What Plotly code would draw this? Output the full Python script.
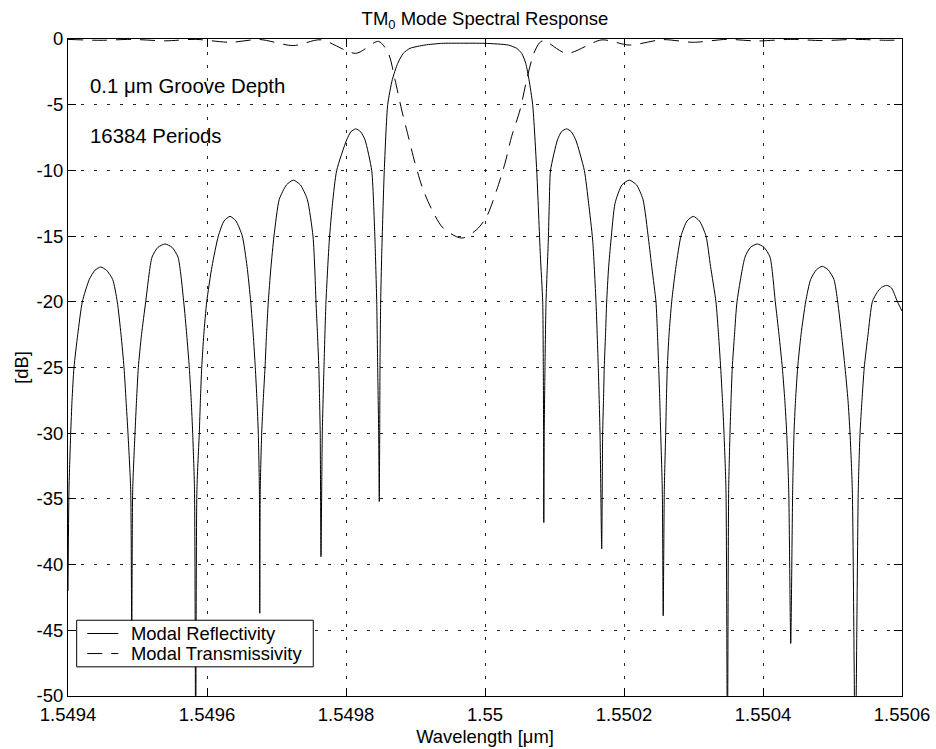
import plotly.graph_objects as go

# ---- data ----
wl_refl = [
    # left edge + lobe 1
    1.5494000, 1.5494014, 1.5494039, 1.5494058, 1.5494086, 1.5494140, 1.5494206, 1.5494306,
    1.5494388, 1.5494471, 1.5494554, 1.5494643, 1.5494709, 1.5494763, 1.5494806, 1.5494835,
    1.5494863, 1.5494902, 1.5494917,
    # lobe 2
    1.5494931, 1.5494964, 1.5494986, 1.5495012, 1.5495058, 1.5495118, 1.5495209, 1.5495295,
    1.5495396, 1.5495496, 1.5495583, 1.5495665, 1.5495708, 1.5495745, 1.5495773, 1.5495794,
    1.5495820, 1.5495837,
    # lobe 3
    1.5495855, 1.5495889, 1.5495905, 1.5495924, 1.5495954, 1.5495996, 1.5496072, 1.5496163,
    1.5496245, 1.5496331, 1.5496417, 1.5496508, 1.5496576, 1.5496629, 1.5496665, 1.5496695,
    1.5496719, 1.5496738, 1.5496754, 1.5496759,
    # lobe 4
    1.5496766, 1.5496787, 1.5496809, 1.5496835, 1.5496856, 1.5496882, 1.5496918, 1.5496964,
    1.5497040, 1.5497144, 1.5497242, 1.5497343, 1.5497443, 1.5497525, 1.5497551, 1.5497568,
    1.5497590, 1.5497609, 1.5497620, 1.5497629, 1.5497640,
    # lobe 5
    1.5497659, 1.5497683, 1.5497712, 1.5497760, 1.5497806, 1.5497866, 1.5498010, 1.5498072,
    1.5498140, 1.5498209, 1.5498273, 1.5498370, 1.5498397, 1.5498417, 1.5498442, 1.5498456,
    1.5498470, 1.5498479,
    # main lobe
    1.5498485, 1.5498489, 1.5498499, 1.5498514, 1.5498551, 1.5498600, 1.5498666, 1.5498744,
    1.5498825, 1.5498921, 1.5499137, 1.5499377, 1.5499655, 1.5500000, 1.5500335, 1.5500456,
    1.5500528, 1.5500586, 1.5500633, 1.5500686, 1.5500744, 1.5500796, 1.5500830, 1.5500839,
    1.5500843, 1.5500846,
    # lobe 6
    1.5500852, 1.5500863, 1.5500878, 1.5500911, 1.5500925, 1.5500943, 1.5501043, 1.5501101,
    1.5501175, 1.5501240, 1.5501305, 1.5501429, 1.5501491, 1.5501549, 1.5501597, 1.5501630,
    1.5501655, 1.5501679,
    # lobe 7
    1.5501693, 1.5501705, 1.5501716, 1.5501734, 1.5501751, 1.5501777, 1.5501813, 1.5501871,
    1.5501971, 1.5502076, 1.5502180, 1.5502273, 1.5502352, 1.5502403, 1.5502460, 1.5502482,
    1.5502499, 1.5502515, 1.5502528, 1.5502551, 1.5502564,
    # lobe 8
    1.5502580, 1.5502600, 1.5502610, 1.5502623, 1.5502648, 1.5502686, 1.5502748, 1.5502820,
    1.5502907, 1.5502997, 1.5503086, 1.5503180, 1.5503245, 1.5503323, 1.5503360, 1.5503391,
    1.5503417, 1.5503439, 1.5503467, 1.5503488,
    # lobe 9
    1.5503506, 1.5503525, 1.5503540, 1.5503558, 1.5503590, 1.5503626, 1.5503741, 1.5503820,
    1.5503918, 1.5504014, 1.5504101, 1.5504177, 1.5504230, 1.5504278, 1.5504314, 1.5504341,
    1.5504370, 1.5504399,
    # lobe 10
    1.5504427, 1.5504446, 1.5504468, 1.5504499, 1.5504547, 1.5504614, 1.5504685, 1.5504770,
    1.5504853, 1.5504935, 1.5505021, 1.5505075, 1.5505130, 1.5505180, 1.5505223, 1.5505252,
    1.5505285, 1.5505328,
    # lobe 11 (cut by right edge)
    1.5505371, 1.5505396, 1.5505424, 1.5505457, 1.5505511, 1.5505573, 1.5505640, 1.5505705,
    1.5505780, 1.5505849, 1.5505935, 1.5506000,
]
refl_db = [
    -42.0, -34.3, -30.0, -27.5, -25.0, -22.5, -20.0, -18.3,
    -17.6, -17.35, -17.6, -18.3, -20.0, -22.5, -25.0, -27.5,
    -30.0, -34.3, -46.0,
    -34.3, -30.0, -27.5, -25.0, -22.5, -20.0, -16.6, -15.85,
    -15.6, -15.85, -16.6, -20.0, -22.5, -25.0, -27.5, -30.0,
    -34.3, -55.0,
    -34.3, -30.0, -27.5, -25.0, -22.5, -20.0, -17.3, -15.0,
    -13.85, -13.5, -13.85, -15.0, -17.3, -20.0, -22.5, -25.0,
    -27.5, -30.0, -34.3, -43.7,
    -34.3, -30.0, -27.5, -25.0, -22.5, -20.0, -17.5, -15.0,
    -12.2, -11.1, -10.74, -11.1, -12.2, -15.0, -17.5, -20.0,
    -22.5, -25.0, -27.5, -30.0, -39.4,
    -30.0, -25.0, -20.0, -15.3, -12.5, -10.0, -7.67, -7.05,
    -6.84, -7.05, -7.67, -10.0, -12.5, -15.3, -20.0, -25.0,
    -30.0, -35.2,
    -30.0, -25.0, -20.0, -16.4, -10.0, -5.0, -3.1, -1.85,
    -1.09, -0.71, -0.46, -0.33, -0.32, -0.33, -0.46, -0.71,
    -1.09, -1.85, -3.1, -5.0, -10.0, -16.4, -20.0, -25.0,
    -30.0, -36.8,
    -30.0, -25.0, -20.0, -15.3, -12.5, -10.0, -7.67, -7.05,
    -6.84, -7.05, -7.67, -10.0, -12.5, -15.3, -20.0, -25.0,
    -30.0, -38.8,
    -30.0, -27.5, -25.0, -22.5, -20.0, -17.5, -15.3, -12.5,
    -11.1, -10.74, -11.1, -12.2, -15.2, -17.5, -20.0, -22.5,
    -25.0, -27.5, -30.0, -34.3, -43.9,
    -34.3, -30.0, -27.5, -25.0, -22.5, -20.0, -17.3, -15.0,
    -13.85, -13.5, -13.85, -15.0, -17.3, -20.0, -22.5, -25.0,
    -27.5, -30.0, -34.3, -55.0,
    -34.3, -30.0, -27.5, -25.0, -22.5, -20.0, -16.6, -15.85,
    -15.6, -15.85, -16.6, -20.0, -22.5, -25.0, -27.5, -30.0,
    -34.3, -46.0,
    -34.3, -30.0, -27.5, -25.0, -22.5, -20.0, -18.3, -17.55,
    -17.3, -17.55, -18.3, -20.0, -22.5, -25.0, -27.5, -30.0,
    -34.3, -55.0,
    -34.3, -30.0, -27.5, -25.0, -22.5, -20.0, -19.3, -18.9,
    -18.75, -18.95, -20.0, -20.7,
]

wl_trans = [
    1.5494000, 1.5494475, 1.5494917, 1.5495396, 1.5495837, 1.5496331, 1.5496759, 1.5497242,
    1.5497640, 1.5498140, 1.5498468, 1.5498609, 1.5498705, 1.5498801, 1.5498896, 1.5498993,
    1.5499112, 1.5499256, 1.5499400, 1.5499665, 1.5499881, 1.5500025, 1.5500168, 1.5500288,
    1.5500384, 1.5500504, 1.5500600, 1.5500695, 1.5500785, 1.5500849, 1.5501175, 1.5501679,
    1.5502076, 1.5502557, 1.5502997, 1.5503477, 1.5503918, 1.5504399, 1.5504853, 1.5505331,
    1.5505780, 1.5506000,
]
trans_db = [
    -0.03, -0.10, -0.03, -0.14, -0.03, -0.25, -0.04, -0.50,
    -0.06, -1.09, -0.18, -1.09, -3.1, -5.4, -7.4, -9.45,
    -11.5, -13.2, -14.4, -15.15, -14.5, -13.5, -11.5, -9.45,
    -7.4, -5.4, -3.1, -1.2, -0.28, -0.12, -1.09, -0.07,
    -0.46, -0.05, -0.25, -0.03, -0.15, -0.03, -0.12, -0.03,
    -0.10, -0.07,
]

series_names = ["Modal Reflectivity", "Modal Transmissivity"]
x_ticks = [1.5494, 1.5496, 1.5498, 1.55, 1.5502, 1.5504, 1.5506]
x_tick_text = ["1.5494", "1.5496", "1.5498", "1.55", "1.5502", "1.5504", "1.5506"]
y_ticks = [0, -5, -10, -15, -20, -25, -30, -35, -40, -45, -50]
y_tick_text = ["0", "-5", "-10", "-15", "-20", "-25", "-30", "-35", "-40", "-45", "-50"]

FONT = "Liberation Sans, Arial, Helvetica, sans-serif"
DASH = "15px,9px"

fig = go.Figure()
fig.add_trace(go.Scatter(
    x=wl_refl, y=refl_db, mode="lines", name=series_names[0], showlegend=False,
    line=dict(color="black", width=1, shape="spline", smoothing=0.6),
))
fig.add_trace(go.Scatter(
    x=wl_trans, y=trans_db, mode="lines", name=series_names[1], showlegend=False,
    line=dict(color="black", width=1, dash=DASH, shape="spline", smoothing=0.8),
))

axis_common = dict(
    showline=True, linecolor="black", linewidth=1, mirror="ticks",
    ticks="inside", ticklen=8, tickcolor="black",
    showgrid=True, gridcolor="#222", gridwidth=1, griddash="3px,10px",
    zeroline=False, automargin=False,
    tickfont=dict(family=FONT, size=18.5, color="black"),
)

fig.update_xaxes(
    range=[1.5494, 1.5506], tickvals=x_ticks, ticktext=x_tick_text, ticklabelstandoff=2,
    title=dict(text="Wavelength [μm]", font=dict(family=FONT, size=18.4, color="black"), standoff=5),
    **axis_common,
)
fig.update_yaxes(
    range=[-50, 0], tickvals=y_ticks, ticktext=y_tick_text,
    title=dict(text="[dB]", font=dict(family=FONT, size=18.4, color="black"), standoff=3),
    **axis_common,
)

# legend box drawn in paper coordinates (matches the boxed legend of the reference)
legend_shapes = [
    dict(type="rect", xref="paper", yref="paper", x0=0.0104, x1=0.2941, y0=0.0444, y1=0.1153,
         line=dict(color="black", width=1), fillcolor="white", layer="above"),
    dict(type="line", xref="paper", yref="paper", x0=0.0231, x1=0.0603, y0=0.0951, y1=0.0951,
         line=dict(color="black", width=1), layer="above"),
    dict(type="line", xref="paper", yref="paper", x0=0.0231, x1=0.0603, y0=0.0646, y1=0.0646,
         line=dict(color="black", width=1, dash=DASH), layer="above"),
]
legend_texts = [
    dict(text=series_names[0], xref="paper", yref="paper", x=0.0731, y=0.0951,
         xanchor="left", yanchor="middle", showarrow=False,
         font=dict(family=FONT, size=18.4, color="black")),
    dict(text=series_names[1], xref="paper", yref="paper", x=0.0731, y=0.0646,
         xanchor="left", yanchor="middle", showarrow=False,
         font=dict(family=FONT, size=18.4, color="black")),
]

fig.update_layout(
    width=936, height=749,
    margin=dict(l=68, r=34, t=39, b=53),
    paper_bgcolor="white", plot_bgcolor="white",
    font=dict(family=FONT, size=18.4, color="black"),
    title=dict(text="TM<sub>0</sub> Mode Spectral Response", x=0.5, xref="paper", xanchor="center",
               y=1 - 18.3 / 749, yref="container", yanchor="middle",
               font=dict(family=FONT, size=18.5, color="black")),
    showlegend=False,
    shapes=legend_shapes,
    annotations=[
        dict(text="0.1 μm Groove Depth", xref="paper", yref="paper", x=0.0236, y=0.929,
             xanchor="left", yanchor="middle", showarrow=False,
             font=dict(family=FONT, size=20.4, color="black")),
        dict(text="16384 Periods", xref="paper", yref="paper", x=0.0236, y=0.8525,
             xanchor="left", yanchor="middle", showarrow=False,
             font=dict(family=FONT, size=20.4, color="black")),
    ] + legend_texts,
)

fig.write_html("out.html", config={"displayModeBar": False},
               post_script="document.body.style.margin='0px';")
